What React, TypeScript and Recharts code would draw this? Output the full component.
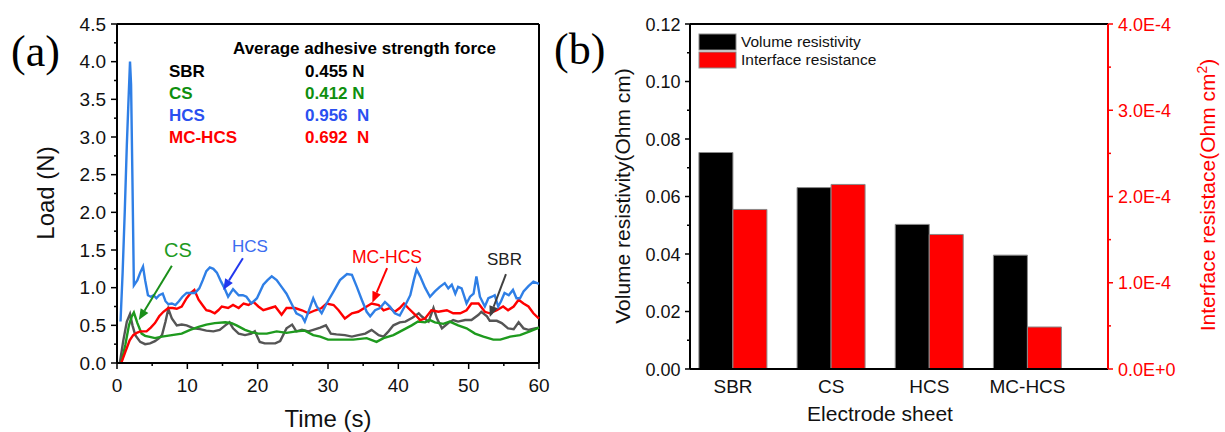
import {
  LineChart,
  Line,
  BarChart,
  Bar,
  XAxis,
  YAxis,
  ReferenceLine,
} from 'recharts';

const SANS = '"Liberation Sans", Arial, sans-serif';
const SERIF = '"Liberation Serif", "Times New Roman", serif';

// ---- panel (a): load vs time, [time s, load N]
const HCS_LOAD: [number, number][] = [
  [0.5, 0.55], [0.8, 1.2], [1.1, 2.0], [1.4, 2.9], [1.6, 3.4], [1.85, 4.0], [2.0, 3.7], [2.2, 2.4],
  [2.4, 1.03], [2.9, 1.1], [3.3, 1.2], [3.7, 1.28], [4.0, 1.1], [4.4, 0.9], [4.8, 0.88], [5.2, 0.9],
  [5.6, 0.86], [6.0, 0.9], [6.5, 0.92], [6.9, 0.82], [7.3, 0.78], [7.8, 0.79], [8.3, 0.77], [8.8, 0.82],
  [9.3, 0.88], [9.9, 0.93], [10.5, 0.93], [11.1, 0.93], [11.7, 0.99], [12.2, 1.1], [12.7, 1.22],
  [13.2, 1.27], [13.7, 1.25], [14.2, 1.2], [14.8, 1.08], [15.3, 0.99], [15.8, 0.88], [16.5, 0.98],
  [17.3, 0.9], [17.9, 0.9], [18.4, 0.88], [19.1, 0.79], [19.9, 0.86], [20.8, 1.04], [21.4, 1.1],
  [22.0, 1.15], [22.7, 1.1], [23.4, 1.01], [24.1, 0.92], [24.8, 0.79], [25.5, 0.66], [26.3, 0.62],
  [26.7, 0.55], [27.3, 0.7], [27.9, 0.86], [28.4, 0.75], [29.1, 0.66], [29.8, 0.79], [30.8, 0.95],
  [31.7, 1.1], [32.7, 1.18], [33.4, 1.17], [34.1, 1.01], [34.8, 0.84], [35.5, 0.68], [36.0, 0.62],
  [36.7, 0.7], [37.4, 0.73], [38.1, 0.81], [38.8, 0.75], [39.5, 0.66], [40.2, 0.63], [40.9, 0.75],
  [41.7, 0.9], [42.2, 1.1], [42.6, 1.24], [43.1, 1.15], [43.8, 1.0], [44.5, 0.88], [45.2, 0.95],
  [45.9, 1.01], [46.6, 1.06], [47.1, 0.99], [47.6, 1.04], [48.1, 0.92], [48.5, 1.01], [49.0, 0.99],
  [49.7, 0.79], [50.2, 0.88], [50.7, 0.92], [51.1, 1.15], [51.6, 0.88], [52.3, 0.75], [52.8, 0.86],
  [53.3, 0.88], [53.7, 0.9], [54.2, 0.75], [54.6, 0.82], [55.1, 0.93], [55.7, 0.9], [56.3, 0.97],
  [56.8, 0.86], [57.3, 0.86], [57.8, 0.95], [58.5, 1.02], [59.2, 1.08], [60, 1.05],
];

const MCHCS_LOAD: [number, number][] = [
  [0.6, 0], [1.2, 0.15], [1.8, 0.3], [2.3, 0.37], [2.8, 0.4], [3.3, 0.42], [3.8, 0.42], [4.2, 0.42],
  [4.8, 0.47], [5.4, 0.53], [6.0, 0.62], [6.6, 0.68], [7.3, 0.73], [7.9, 0.73], [8.5, 0.72], [9.2, 0.75],
  [9.9, 0.86], [10.5, 0.93], [11.0, 0.97], [11.6, 0.84], [12.3, 0.75], [12.7, 0.7], [13.2, 0.69],
  [13.9, 0.66], [14.4, 0.7], [14.9, 0.75], [15.8, 0.73], [16.5, 0.77], [17.3, 0.73], [18.0, 0.79],
  [18.7, 0.77], [19.4, 0.81], [20.1, 0.75], [20.8, 0.7], [21.8, 0.73], [22.5, 0.75], [23.4, 0.64],
  [24.1, 0.73], [25.3, 0.73], [26.3, 0.7], [27.2, 0.66], [28.2, 0.7], [29.1, 0.73], [29.8, 0.79],
  [30.8, 0.77], [31.5, 0.7], [32.4, 0.59], [33.4, 0.66], [34.3, 0.68], [35.5, 0.75], [36.2, 0.79],
  [37.2, 0.77], [37.9, 0.7], [38.8, 0.73], [39.5, 0.68], [40.2, 0.73], [40.8, 0.79], [41.4, 0.73],
  [42.4, 0.64], [43.1, 0.57], [43.8, 0.59], [44.7, 0.7], [45.7, 0.68], [46.9, 0.7], [47.8, 0.66],
  [48.8, 0.66], [49.7, 0.7], [50.4, 0.79], [51.4, 0.79], [52.3, 0.68], [53.0, 0.66], [54.0, 0.7],
  [54.9, 0.75], [55.6, 0.7], [56.4, 0.75], [57.1, 0.84], [57.8, 0.79], [58.5, 0.75], [59.2, 0.66],
  [60, 0.59],
];

const CS_LOAD: [number, number][] = [
  [0.6, 0], [1.2, 0.25], [1.7, 0.5], [2.1, 0.62], [2.4, 0.67], [2.9, 0.53], [3.5, 0.39], [4.0, 0.36],
  [4.5, 0.35], [5.4, 0.33], [6.4, 0.35], [7.8, 0.37], [9.2, 0.39], [10.4, 0.44], [11.6, 0.48],
  [12.7, 0.51], [13.9, 0.53], [15.4, 0.54], [16.3, 0.53], [17.0, 0.5], [18.2, 0.44], [19.1, 0.41],
  [20.1, 0.39], [21.3, 0.39], [22.7, 0.42], [24.1, 0.4], [25.5, 0.42], [26.7, 0.43], [27.9, 0.37],
  [28.9, 0.35], [30.0, 0.31], [31.7, 0.31], [33.6, 0.31], [35.5, 0.33], [36.9, 0.28], [37.9, 0.33],
  [39.3, 0.37], [40.7, 0.44], [41.9, 0.5], [42.8, 0.55], [43.8, 0.54], [44.5, 0.57], [45.2, 0.54],
  [46.4, 0.52], [47.3, 0.55], [48.5, 0.5], [49.7, 0.46], [50.9, 0.39], [52.1, 0.35], [53.5, 0.31],
  [54.5, 0.31], [55.9, 0.35], [57.3, 0.37], [58.7, 0.42], [60, 0.47],
];

const SBR_LOAD: [number, number][] = [
  [0.4, 0], [0.9, 0.3], [1.4, 0.55], [1.85, 0.65], [2.2, 0.5], [2.6, 0.37], [3.3, 0.28], [4.0, 0.25],
  [4.7, 0.26], [5.4, 0.29], [6.0, 0.33], [6.4, 0.37], [6.9, 0.55], [7.3, 0.72], [7.8, 0.59], [8.5, 0.5],
  [9.2, 0.51], [9.9, 0.5], [10.9, 0.46], [11.8, 0.45], [12.7, 0.43], [13.7, 0.42], [14.6, 0.44],
  [15.4, 0.5], [16.0, 0.54], [16.5, 0.46], [17.3, 0.39], [18.2, 0.37], [19.1, 0.39], [19.6, 0.42],
  [20.3, 0.28], [21.0, 0.26], [22.5, 0.26], [23.2, 0.29], [24.1, 0.46], [24.9, 0.51], [25.5, 0.42],
  [26.3, 0.44], [27.2, 0.42], [27.9, 0.44], [28.9, 0.47], [29.7, 0.5], [30.4, 0.39], [31.2, 0.38],
  [32.4, 0.37], [33.4, 0.35], [34.3, 0.37], [35.3, 0.39], [36.2, 0.44], [37.2, 0.37], [37.9, 0.35],
  [38.6, 0.42], [39.3, 0.5], [40.2, 0.54], [41.0, 0.55], [42.0, 0.6], [42.9, 0.66], [43.3, 0.62],
  [44.3, 0.55], [45.0, 0.73], [45.5, 0.59], [46.2, 0.46], [47.1, 0.53], [47.8, 0.57], [48.5, 0.55],
  [49.5, 0.57], [50.4, 0.57], [51.4, 0.64], [51.8, 0.68], [52.6, 0.62], [53.0, 0.56], [54.0, 0.56],
  [54.7, 0.53], [55.6, 0.46], [56.4, 0.45], [57.1, 0.54], [57.8, 0.46], [58.5, 0.44], [59.4, 0.46],
  [60, 0.47],
];

const TIME_TICKS = [0, 5, 10, 15, 20, 25, 30, 35, 40, 45, 50, 55, 60];
const LOAD_TICKS = [0, 0.25, 0.5, 0.75, 1, 1.25, 1.5, 1.75, 2, 2.25, 2.5, 2.75, 3, 3.25, 3.5, 3.75, 4, 4.25, 4.5];

// average adhesive force table
const AVG_NAMES = ['SBR', 'CS', 'HCS', 'MC-HCS'];
const AVG_VALUES = ['0.455 N', '0.412 N', '0.956  N', '0.692  N'];

// arrows pointing at curves: [from t, from load, to t, to load]
const ARROWS: [number, number, number, number][] = [
  [7.8, 1.29, 3.1, 0.57],
  [17.9, 1.39, 15.1, 0.97],
  [38.4, 1.26, 36.3, 0.8],
  [55.3, 1.18, 53.0, 0.61],
];
const ARROW_COLORS = ['#1a8f1a', '#2238ee', '#ff0000', '#404040'];

// ---- panel (b): resistivity bars
const SHEETS = ['SBR', 'CS', 'HCS', 'MC-HCS'];
const VOLUME_RES = [0.0753, 0.0631, 0.0503, 0.0396];
const INTERFACE_RES = [1.85e-4, 2.14e-4, 1.56e-4, 0.487e-4];
const VOL_TICKS = [0, 0.01, 0.02, 0.03, 0.04, 0.05, 0.06, 0.07, 0.08, 0.09, 0.1, 0.11, 0.12];
const ITF_TICKS = [0, 0.5e-4, 1e-4, 1.5e-4, 2e-4, 2.5e-4, 3e-4, 3.5e-4, 4e-4];

const toPts = (arr: [number, number][]) => arr.map(([t, v]) => ({ t, v }));
const barData = SHEETS.map((name, i) => ({
  name,
  pos: i + 1,
  vol: VOLUME_RES[i],
  itf: INTERFACE_RES[i],
}));

const arrowShape = (color: string) => (p: any) => {
  const { x1, y1, x2, y2 } = p;
  const dx = x2 - x1;
  const dy = y2 - y1;
  const len = Math.hypot(dx, dy) || 1;
  const ux = dx / len;
  const uy = dy / len;
  const head = 11;
  const half = 4.5;
  const bx = x2 - ux * head;
  const by = y2 - uy * head;
  return (
    <g>
      <line x1={x1} y1={y1} x2={bx} y2={by} stroke={color} strokeWidth={2} />
      <polygon
        points={`${x2},${y2} ${bx - uy * half},${by + ux * half} ${bx + uy * half},${by - ux * half}`}
        fill={color}
      />
    </g>
  );
};

// ticks: drawn by hand so that minor ticks get no label
const TimeTick = ({ x, y, payload }: any) => {
  const major = payload.value % 10 === 0;
  return (
    <g>
      <line x1={x} x2={x} y1={y} y2={y + (major ? 6 : 3)} stroke="#000" strokeWidth={1.5} />
      {major && (
        <text x={x} y={y + 29} textAnchor="middle" fontSize={19} fontFamily={SANS} fill="#111">
          {payload.value}
        </text>
      )}
    </g>
  );
};

const LoadTick = ({ x, y, payload }: any) => {
  const major = Math.round(payload.value * 4) % 2 === 0;
  return (
    <g>
      <line x1={x} x2={x - (major ? 6 : 3)} y1={y} y2={y} stroke="#000" strokeWidth={1.5} />
      {major && (
        <text x={x - 11} y={y + 6.5} textAnchor="end" fontSize={19} fontFamily={SANS} fill="#111">
          {payload.value.toFixed(1)}
        </text>
      )}
    </g>
  );
};

const SheetTick = ({ x, y, payload }: any) => (
  <text x={x} y={y + 24} textAnchor="middle" fontSize={19} fontFamily={SANS} fill="#111">
    {SHEETS[payload.value - 1]}
  </text>
);

const VolTick = ({ x, y, payload }: any) => {
  const major = Math.round(payload.value * 100) % 2 === 0;
  return (
    <g>
      <line x1={x} x2={x - (major ? 5 : 3)} y1={y} y2={y} stroke="#000" strokeWidth={1.5} />
      {major && (
        <text x={x - 9.5} y={y + 6.5} textAnchor="end" fontSize={18} fontFamily={SANS} fill="#111">
          {payload.value.toFixed(2)}
        </text>
      )}
    </g>
  );
};

const ItfTick = ({ x, y, payload }: any) => {
  const k = Math.round(payload.value / 0.5e-4);
  const major = k % 2 === 0;
  const label = k === 0 ? '0.0E+0' : `${(k / 2).toFixed(1)}E-4`;
  return (
    <g>
      <line x1={x} x2={x + (major ? 5 : 3)} y1={y} y2={y} stroke="#ff0000" strokeWidth={1.5} />
      {major && (
        <text x={x + 10} y={y + 6.5} textAnchor="start" fontSize={18} fontFamily={SANS} fill="#ff0000">
          {label}
        </text>
      )}
    </g>
  );
};

const AVG_COLORS = ['#000000', '#0e8f0e', '#2a50f0', '#ff0000'];

export default function App() {
  return (
    <div style={{ position: 'absolute', left: 0, top: 0, width: 1225, height: 432, background: '#fff' }}>
      <div style={{ position: 'absolute', left: 0, top: 0 }}>
        <LineChart width={560} height={432} margin={{ top: 24, right: 21, bottom: 0, left: 0 }}>
          <XAxis
            type="number"
            dataKey="t"
            domain={[0, 60]}
            ticks={TIME_TICKS}
            interval={0}
            height={69}
            tickSize={0}
            tickMargin={0}
            tickLine={false}
            tick={<TimeTick />}
            axisLine={{ stroke: '#000', strokeWidth: 2 }}
          />
          <YAxis
            type="number"
            domain={[0, 4.5]}
            ticks={LOAD_TICKS}
            interval={0}
            width={117}
            tickSize={0}
            tickMargin={0}
            tickLine={false}
            tick={<LoadTick />}
            axisLine={{ stroke: '#000', strokeWidth: 2 }}
          />
          <ReferenceLine y={4.5} stroke="#000" strokeWidth={2} />
          <ReferenceLine x={60} stroke="#000" strokeWidth={2} />
          <Line data={toPts(SBR_LOAD)} dataKey="v" stroke="#555555" strokeWidth={2.4} dot={false} isAnimationActive={false} />
          <Line data={toPts(CS_LOAD)} dataKey="v" stroke="#1e9a1e" strokeWidth={2.4} dot={false} isAnimationActive={false} />
          <Line data={toPts(MCHCS_LOAD)} dataKey="v" stroke="#ff0000" strokeWidth={2.4} dot={false} isAnimationActive={false} />
          <Line data={toPts(HCS_LOAD)} dataKey="v" stroke="#2f7fe6" strokeWidth={2.4} dot={false} isAnimationActive={false} />
          {ARROWS.map(([t1, v1, t2, v2], i) => (
            <ReferenceLine
              key={i}
              segment={[{ x: t1, y: v1 }, { x: t2, y: v2 }]}
              shape={arrowShape(ARROW_COLORS[i])}
            />
          ))}
        </LineChart>
      </div>

      <div style={{ position: 'absolute', left: 560, top: 0 }}>
        <BarChart width={665} height={432} data={barData} margin={{ top: 24, right: 0, bottom: 0, left: 0 }} barGap={0}>
          <XAxis
            type="number"
            dataKey="pos"
            domain={[0.562, 4.82]}
            ticks={[1, 2, 3, 4]}
            interval={0}
            height={63}
            tickSize={0}
            tickMargin={0}
            tickLine={false}
            tick={<SheetTick />}
            axisLine={{ stroke: '#000', strokeWidth: 2 }}
          />
          <YAxis
            yAxisId="left"
            type="number"
            domain={[0, 0.12]}
            ticks={VOL_TICKS}
            interval={0}
            width={130}
            tickSize={0}
            tickMargin={0}
            tickLine={false}
            tick={<VolTick />}
            axisLine={{ stroke: '#000', strokeWidth: 2 }}
          />
          <YAxis
            yAxisId="right"
            orientation="right"
            type="number"
            domain={[0, 4e-4]}
            ticks={ITF_TICKS}
            interval={0}
            width={117}
            tickSize={0}
            tickMargin={0}
            tickLine={false}
            tick={<ItfTick />}
            axisLine={{ stroke: '#ff0000', strokeWidth: 2 }}
          />
          <ReferenceLine yAxisId="left" y={0.12} stroke="#000" strokeWidth={2} />
          <Bar yAxisId="left" dataKey="vol" fill="#000" stroke="#8a8a8a" strokeWidth={1} barSize={34} isAnimationActive={false} />
          <Bar yAxisId="right" dataKey="itf" fill="#ff0000" stroke="#8a8a8a" strokeWidth={1} barSize={34} isAnimationActive={false} />
        </BarChart>
      </div>

      <svg width={1225} height={432} style={{ position: 'absolute', left: 0, top: 0, pointerEvents: 'none' }}>
        <text x={11} y={66} fontSize={44} fontFamily={SERIF} fill="#000">(a)</text>
        <text x={554} y={64} fontSize={44} fontFamily={SERIF} fill="#000">(b)</text>

        <text x={54} y={193} transform="rotate(-90 54 193)" textAnchor="middle" fontSize={24} fontFamily={SANS} fill="#111">
          Load (N)
        </text>
        <text x={328} y={427} textAnchor="middle" fontSize={24} fontFamily={SANS} fill="#111">Time (s)</text>

        <text x={233} y={54} fontSize={17} fontWeight="bold" fontFamily={SANS} fill="#000">
          Average adhesive strength force
        </text>
        {AVG_NAMES.map((n, i) => (
          <g key={n}>
            <text x={169} y={77 + i * 22} fontSize={17} fontWeight="bold" fontFamily={SANS} fill={AVG_COLORS[i]}>{n}</text>
            <text x={305} y={77 + i * 22} fontSize={17} fontWeight="bold" fontFamily={SANS} fill={AVG_COLORS[i]} style={{ whiteSpace: 'pre' }}>
              {AVG_VALUES[i]}
            </text>
          </g>
        ))}

        <text x={164} y={257} fontSize={20} fontFamily={SANS} fill="#1e9a1e">CS</text>
        <text x={232} y={252} fontSize={17} fontFamily={SANS} fill="#3c6cf0">HCS</text>
        <text x={352} y={263} fontSize={17.5} fontFamily={SANS} fill="#ff0000">MC-HCS</text>
        <text x={487} y={265} fontSize={17} fontFamily={SANS} fill="#222">SBR</text>

        <rect x={699} y={34} width={37} height={16} fill="#000" stroke="#8a8a8a" />
        <rect x={699} y={52} width={37} height={16} fill="#ff0000" stroke="#8a8a8a" />
        <text x={741} y={47} fontSize={15.5} fontFamily={SANS} fill="#111">Volume resistivity</text>
        <text x={741} y={65} fontSize={15.5} fontFamily={SANS} fill="#111">Interface resistance</text>

        <text x={630} y={196} transform="rotate(-90 630 196)" textAnchor="middle" fontSize={21} fontFamily={SANS} fill="#111">
          Volume resistivity(Ohm cm)
        </text>
        <text x={880} y={421} textAnchor="middle" fontSize={21} fontFamily={SANS} fill="#111">Electrode sheet</text>
        <text x={1215} y={195} transform="rotate(-90 1215 195)" textAnchor="middle" fontSize={21} fontFamily={SANS} fill="#ff0000">
          Interface resistace(Ohm cm<tspan fontSize={14} dy={-8}>2</tspan><tspan dy={8}>)</tspan>
        </text>
      </svg>
    </div>
  );
}
